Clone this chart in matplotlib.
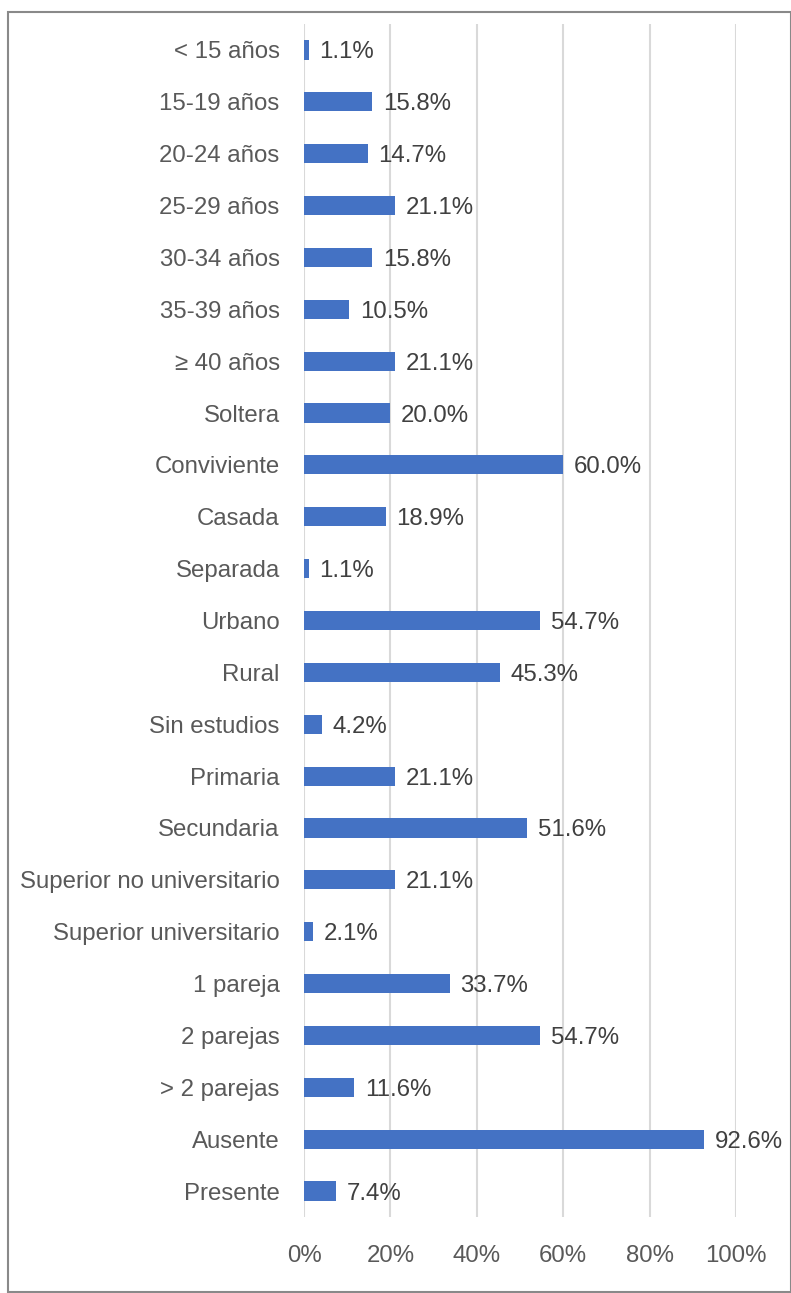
import matplotlib.pyplot as plt
from matplotlib import font_manager as fm
from matplotlib.patches import Rectangle
import numpy as np

# use regular Liberation Sans (not the Narrow variant)
regular = [f for f in fm.findSystemFonts() if f.endswith('LiberationSans-Regular.ttf')]
if regular:
    fm.fontManager.addfont(regular[0])
    nombre = fm.FontProperties(fname=regular[0]).get_name()
else:
    nombre = 'DejaVu Sans'
plt.rcParams['font.family'] = [nombre, 'DejaVu Sans']

categorias = ['< 15 años', '15-19 años', '20-24 años', '25-29 años', '30-34 años',
              '35-39 años', '≥ 40 años', 'Soltera', 'Conviviente', 'Casada',
              'Separada', 'Urbano', 'Rural', 'Sin estudios', 'Primaria',
              'Secundaria', 'Superior no universitario', 'Superior universitario',
              '1 pareja', '2 parejas', '> 2 parejas', 'Ausente', 'Presente']
porcentajes = [1.1, 15.8, 14.7, 21.1, 15.8, 10.5, 21.1, 20.0, 60.0, 18.9,
               1.1, 54.7, 45.3, 4.2, 21.1, 51.6, 21.1, 2.1, 33.7, 54.7,
               11.6, 92.6, 7.4]
ticks_x = [0, 20, 40, 60, 80, 100]

gris = '#595959'
fs = 17.3
W, H = 791, 1293
fig = plt.figure(figsize=(W / 100, H / 100), dpi=100)
ax = fig.add_axes([304 / W, 1 - 1217 / H, (736 - 304) / W, (1217 - 24) / H])

y = np.arange(len(categorias))
ax.barh(y, porcentajes, height=0.37, color='#4472C4', zorder=3)
for yi, v in zip(y, porcentajes):
    ax.text(v + 2.5, yi, '{:.1f}%'.format(v), va='center_baseline', ha='left',
            fontsize=fs, color='#404040')

ax.set_xlim(0, 100)
ax.set_ylim(len(categorias) - 0.5, -0.5)
ax.set_yticks(y)
ax.set_yticklabels(categorias, fontsize=fs, color=gris, va='center_baseline')
ax.set_xticks(ticks_x)
ax.set_xticklabels(['{}%'.format(t) for t in ticks_x], fontsize=fs, color=gris)
ax.tick_params(axis='y', length=0, pad=17.5)
ax.tick_params(axis='x', length=0, pad=20)
ax.grid(axis='x', color='#D9D9D9', linewidth=1.5, zorder=0)
ax.set_axisbelow(True)
for s in ax.spines.values():
    s.set_visible(False)

fig.patches.append(Rectangle((7.5 / W, 1 - 1291.5 / H), 783.5 / W, 1280 / H,
                             transform=fig.transFigure, fill=False,
                             edgecolor='#898989', linewidth=1.5))

plt.savefig('out.png', dpi=100)
